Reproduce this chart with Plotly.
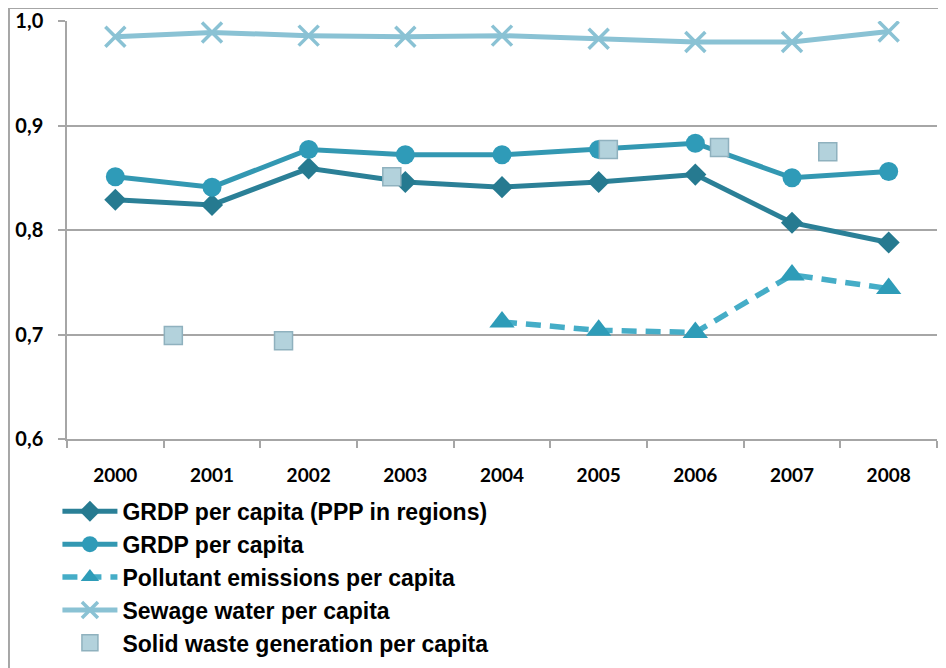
import plotly.graph_objects as go

years = [2000, 2001, 2002, 2003, 2004, 2005, 2006, 2007, 2008]
grdp_ppp = [0.829, 0.824, 0.859, 0.846, 0.841, 0.846, 0.853, 0.807, 0.788]
grdp = [0.851, 0.841, 0.877, 0.872, 0.872, 0.877, 0.883, 0.850, 0.856]
pollutant_years = [2004, 2005, 2006, 2007, 2008]
pollutant = [0.712, 0.704, 0.702, 0.757, 0.744]
sewage = [0.985, 0.989, 0.986, 0.985, 0.986, 0.983, 0.980, 0.980, 0.990]
# solid waste markers sit between the year categories in the original
waste_x = [2000.6, 2001.74, 2002.86, 2005.1, 2006.25, 2007.37]
waste = [0.699, 0.694, 0.851, 0.877, 0.879, 0.875]

COLORS = {
    'ppp': '#2B8097',
    'grdp': '#3398B2',
    'pollutant': '#45ADC7',
    'sewage': '#8AC2D4',
    'waste': '#B3D2DC',
}

fig = go.Figure()

fig.add_trace(go.Scatter(
    x=years, y=grdp_ppp, name='GRDP per capita (PPP in regions)',
    mode='lines+markers',
    line=dict(color=COLORS['ppp'], width=5),
    marker=dict(symbol='diamond', size=17, color='#267A90')
))

fig.add_trace(go.Scatter(
    x=years, y=grdp, name='GRDP per capita',
    mode='lines+markers',
    line=dict(color=COLORS['grdp'], width=5),
    marker=dict(symbol='circle', size=19, color='#2F9BB8')
))

fig.add_trace(go.Scatter(
    x=pollutant_years, y=pollutant, name='Pollutant emissions per capita',
    mode='lines+markers',
    line=dict(color=COLORS['pollutant'], width=5.5, dash='15px,9px'),
    marker=dict(symbol='triangle-up', size=22, color='#2E9CB8')
))

fig.add_trace(go.Scatter(
    x=years, y=sewage, name='Sewage water per capita',
    mode='lines+markers',
    line=dict(color=COLORS['sewage'], width=5),
    marker=dict(symbol='x-thin-open', size=20,
                line=dict(color='#86B9CC', width=3.5))
))

fig.add_trace(go.Scatter(
    x=waste_x, y=waste, name='Solid waste generation per capita',
    mode='markers',
    marker=dict(symbol='square', size=18, color=COLORS['waste'],
                line=dict(color='#8FB1BE', width=1.5))
))

fig.update_xaxes(
    range=[1999.5, 2008.5],
    tickvals=years,
    ticktext=[str(y) for y in years],
    ticks='',
    showgrid=False,
    zeroline=False,
    showline=True, linecolor='#A6A6A6', linewidth=1.5,
    minor=dict(ticks='outside', tick0=1999.5, dtick=1, ticklen=7,
               tickcolor='#A6A6A6', tickwidth=1.5, showgrid=False),
    tickfont=dict(family='Lato', size=19, color='black', weight='bold'),
    ticklabelstandoff=18
)

fig.update_yaxes(
    range=[0.6, 1.0],
    dtick=0.1,
    tickformat='.1f',
    ticks='outside', ticklen=7, tickcolor='#A6A6A6', tickwidth=1.5,
    showgrid=True, gridcolor='#A6A6A6', gridwidth=1.5,
    zeroline=False,
    showline=True, linecolor='#A6A6A6', linewidth=1.5,
    tickfont=dict(family='Lato', size=20, color='black', weight='bold'),
    ticklabelstandoff=11
)

# partial frame of the cropped original chart
fig.add_shape(type='line', xref='paper', yref='paper',
              x0=-0.0667, x1=1.02, y0=1.031, y1=1.031,
              line=dict(color='#A6A6A6', width=2))
fig.add_shape(type='line', xref='paper', yref='paper',
              x0=-0.0667, x1=-0.0667, y0=1.031, y1=-0.55,
              line=dict(color='#A6A6A6', width=2))

fig.update_layout(
    width=938, height=660,
    separators=',.',
    plot_bgcolor='white',
    paper_bgcolor='white',
    margin=dict(l=59, r=9, t=13, b=229, autoexpand=False),
    showlegend=True,
    legend=dict(
        x=-0.011, y=0.27, xanchor='left', yanchor='top', yref='container',
        font=dict(family='Liberation Sans', size=23, color='black', weight='bold'),
        itemwidth=55, tracegroupgap=0,
        bgcolor='rgba(0,0,0,0)'
    )
)

fig.write_html("out.html")
